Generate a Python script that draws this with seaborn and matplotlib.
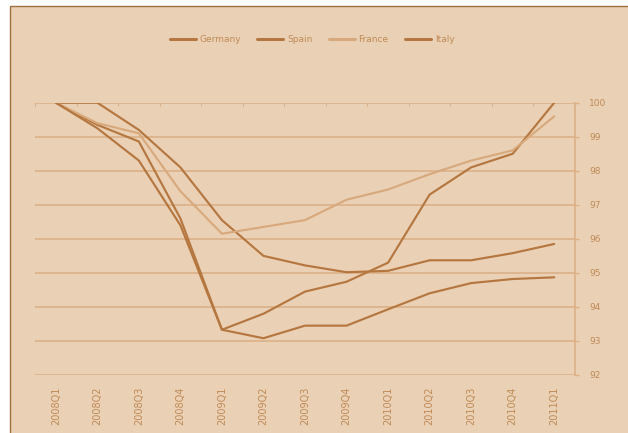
import numpy as np
import pandas as pd
import matplotlib
matplotlib.use("Agg")
import matplotlib.pyplot as plt
import seaborn as sns
from matplotlib.patches import Rectangle

quarters = ["2008Q1", "2008Q2", "2008Q3", "2008Q4", "2009Q1", "2009Q2", "2009Q3",
            "2009Q4", "2010Q1", "2010Q2", "2010Q3", "2010Q4", "2011Q1"]
germany = [100.0, 99.35, 98.86, 96.6, 93.33, 93.8, 94.45, 94.74, 95.3, 97.3, 98.1, 98.5, 100.0]
spain = [100.0, 100.0, 99.2, 98.1, 96.55, 95.5, 95.22, 95.02, 95.06, 95.37, 95.37, 95.58, 95.85]
france = [100.0, 99.4, 99.1, 97.4, 96.15, 96.35, 96.55, 97.15, 97.45, 97.9, 98.3, 98.6, 99.6]
italy = [100.0, 99.25, 98.3, 96.4, 93.33, 93.08, 93.45, 93.45, 93.93, 94.4, 94.7, 94.82, 94.87]
countries = ["Germany", "Spain", "France", "Italy"]
y_ticks = [92, 93, 94, 95, 96, 97, 98, 99, 100]

bg = "#EAD1B6"
dark = "#B5773F"
light = "#D8A97C"
grid_c = "#DBB087"
text_c = "#BF8A55"

rows = []
for name, vals in zip(countries, [germany, spain, france, italy]):
    for i, (q, v) in enumerate(zip(quarters, vals)):
        rows.append({"pos": i, "quarter": q, "country": name, "value": v})
df = pd.DataFrame(rows)

sns.set_style("white")
plt.rcParams["font.family"] = ["DejaVu Sans"]

fig = plt.figure(figsize=(6.28, 4.33), dpi=100)
fig.patch.set_facecolor("white")
# chart area panel with a dark frame on top/left
fig.patches.append(Rectangle((9.5 / 628, -0.05), 1.1, 1 - 6.5 / 433 + 0.05,
                             transform=fig.transFigure, facecolor=bg,
                             edgecolor="#A0703F", linewidth=1.0, zorder=-10))

ax = fig.add_axes([35 / 628, 1 - 375 / 433, 540 / 628, (375 - 102.7) / 433])
ax.set_facecolor("none")

palette = {"Germany": dark, "Spain": dark, "France": light, "Italy": dark}
sns.lineplot(data=df, x="pos", y="value", hue="country", hue_order=countries,
             palette=palette, linewidth=1.55, ax=ax, legend=True, zorder=3)

ax.set_xlim(-0.5, len(quarters) - 0.5)
ax.set_ylim(min(y_ticks), max(y_ticks))
ax.yaxis.tick_right()
ax.set_yticks(y_ticks)
ax.set_yticklabels([str(t) for t in y_ticks])
ax.set_xticks(range(len(quarters)))
ax.set_xticklabels(quarters, rotation=90)
ax.tick_params(axis="x", length=0, pad=8.5, labelsize=7, labelcolor=text_c)
ax.tick_params(axis="y", length=3, width=1.0, color=grid_c, pad=7,
               labelsize=6.5, labelcolor=text_c, direction="out")
ax.grid(axis="y", color=grid_c, linewidth=1.2, zorder=1)
ax.set_axisbelow(True)
ax.set_xlabel("")
ax.set_ylabel("")
for s in ["left", "bottom", "top"]:
    ax.spines[s].set_visible(False)
ax.spines["right"].set_color(grid_c)
ax.spines["right"].set_linewidth(1.2)

# category boundary ticks along the axis line at the top
top = ax.secondary_xaxis("top")
top.set_xticks(np.arange(-0.5, len(quarters), 1.0))
top.tick_params(axis="x", direction="in", length=2.5, width=0.8, color=grid_c,
                labeltop=False)
top.spines["top"].set_visible(False)

handles, labels = ax.get_legend_handles_labels()
for h in handles:
    h.set_linewidth(2.2)
leg = ax.legend(handles, labels, loc="center",
                bbox_to_anchor=((312 - 35) / 540, 1 + (102.7 - 40) / 272.3),
                ncol=4, frameon=False, fontsize=6.5, handlelength=2.9,
                columnspacing=1.8, handletextpad=0.4)
for t in leg.get_texts():
    t.set_color(text_c)

fig.savefig("out.png", dpi=100, facecolor=fig.get_facecolor())
